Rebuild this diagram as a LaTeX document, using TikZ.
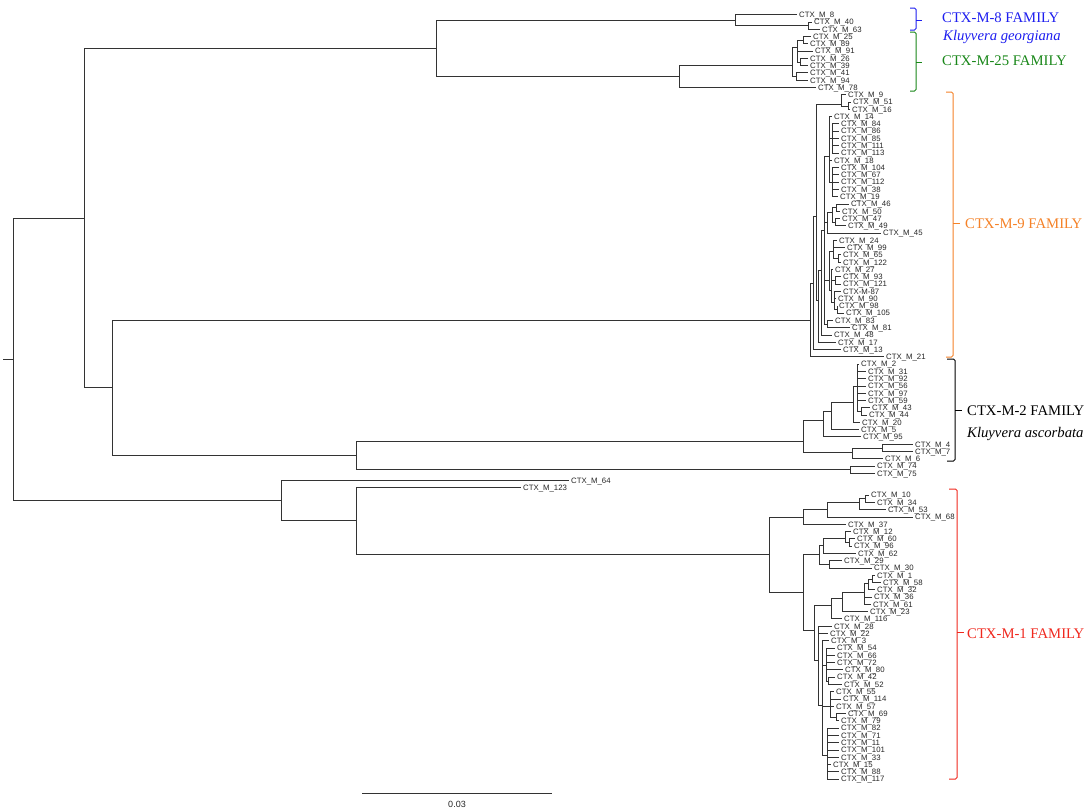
\documentclass[tikz,border=0pt]{standalone}
\usepackage{fontspec}
\setmainfont{Liberation Serif}
\newfontfamily\leaffont{Liberation Sans}
\definecolor{famblue}{RGB}{30,30,240}
\definecolor{famgreen}{RGB}{25,135,25}
\definecolor{famorange}{RGB}{245,130,40}
\definecolor{famred}{RGB}{240,40,30}
\tikzset{
  br/.style={line width=0.9pt, draw=black!80},
  leaf/.style={anchor=west, inner xsep=2pt, inner ysep=0pt, text height=5.6pt, text depth=0pt,
    font=\leaffont\fontsize{7.8}{8}\selectfont, text=black!85},
  inode/.style={inner sep=0pt, outer sep=0pt, minimum size=0pt},
  fam/.style={anchor=base west, inner sep=0pt, font=\fontsize{14.7}{16}\selectfont},
  brace/.style={line width=1pt, rounded corners=1.5pt},
}
\newcommand\lfn[4]{\node[leaf] (#1) at (#2,{14.7+#3*7.28}) {#4};}
\newcommand\inn[3]{\node[inode] (#1) at (#2,#3) {};}
\newcommand\kids[2]{\foreach \ch in {#2}{\draw[br] (#1) |- (\ch.west);}}
\begin{document}
\begin{tikzpicture}[x=1pt,y=-1pt]
\useasboundingbox[fill=white] (0,0) rectangle (1090,811);
% ---------- leaves ----------
\lfn{m8}{797}{0}{CTX\_M\_8}
\lfn{m40}{812}{1}{CTX\_M\_40}
\lfn{m63}{820}{2}{CTX\_M\_63}
\lfn{m25}{811}{3}{CTX\_M\_25}
\lfn{m89}{808}{4}{CTX\_M\_89}
\lfn{m91}{813}{5}{CTX\_M\_91}
\lfn{m26}{808}{6}{CTX\_M\_26}
\lfn{m39}{808}{7}{CTX\_M\_39}
\lfn{m41}{808}{8}{CTX\_M\_41}
\lfn{m94}{808}{9}{CTX\_M\_94}
\lfn{m78}{816}{10}{CTX\_M\_78}
\lfn{m9}{846}{11}{CTX\_M\_9}
\lfn{m51}{851}{12}{CTX\_M\_51}
\lfn{m16}{850}{13}{CTX\_M\_16}
\lfn{m14}{832}{14}{CTX\_M\_14}
\lfn{m84}{839}{15}{CTX\_M\_84}
\lfn{m86}{839}{16}{CTX\_M\_86}
\lfn{m85}{839}{17}{CTX\_M\_85}
\lfn{m111}{839}{18}{CTX\_M\_111}
\lfn{m113}{839}{19}{CTX\_M\_113}
\lfn{m18}{832}{20}{CTX\_M\_18}
\lfn{m104}{839}{21}{CTX\_M\_104}
\lfn{m67}{839}{22}{CTX\_M\_67}
\lfn{m112}{839}{23}{CTX\_M\_112}
\lfn{m38}{839}{24}{CTX\_M\_38}
\lfn{m19}{838}{25}{CTX\_M\_19}
\lfn{m46}{849}{26}{CTX\_M\_46}
\lfn{m50}{840}{27}{CTX\_M\_50}
\lfn{m47}{840}{28}{CTX\_M\_47}
\lfn{m49}{846}{29}{CTX\_M\_49}
\lfn{m45}{881}{30}{CTX\_M\_45}
\lfn{m24}{837}{31}{CTX\_M\_24}
\lfn{m99}{845}{32}{CTX\_M\_99}
\lfn{m65}{841}{33}{CTX\_M\_65}
\lfn{m122}{841}{34}{CTX\_M\_122}
\lfn{m27}{833}{35}{CTX\_M\_27}
\lfn{m93}{841}{36}{CTX\_M\_93}
\lfn{m121}{841}{37}{CTX\_M\_121}
\lfn{m87}{841}{38}{CTX-M-87}
\lfn{m90}{836}{39}{CTX\_M\_90}
\lfn{m98}{837}{40}{CTX\_M\_98}
\lfn{m105}{844}{41}{CTX\_M\_105}
\lfn{m83}{833}{42}{CTX\_M\_83}
\lfn{m81}{850}{43}{CTX\_M\_81}
\lfn{m48}{832}{44}{CTX\_M\_48}
\lfn{m17}{836}{45}{CTX\_M\_17}
\lfn{m13}{841}{46}{CTX\_M\_13}
\lfn{m21}{884}{47}{CTX\_M\_21}
\lfn{m2}{859}{48}{CTX\_M\_2}
\lfn{m31}{866}{49}{CTX\_M\_31}
\lfn{m92}{866}{50}{CTX\_M\_92}
\lfn{m56}{866}{51}{CTX\_M\_56}
\lfn{m97}{866}{52}{CTX\_M\_97}
\lfn{m59}{866}{53}{CTX\_M\_59}
\lfn{m43}{870}{54}{CTX\_M\_43}
\lfn{m44}{867}{55}{CTX\_M\_44}
\lfn{m20}{860}{56}{CTX\_M\_20}
\lfn{m5}{859}{57}{CTX\_M\_5}
\lfn{m95}{861}{58}{CTX\_M\_95}
\lfn{m4}{913}{59}{CTX\_M\_4}
\lfn{m7}{913}{60}{CTX\_M\_7}
\lfn{m6}{883}{61}{CTX\_M\_6}
\lfn{m74}{875}{62}{CTX\_M\_74}
\lfn{m75}{875}{63}{CTX\_M\_75}
\lfn{m64}{569}{64}{CTX\_M\_64}
\lfn{m123}{521}{65}{CTX\_M\_123}
\lfn{m10}{869}{66}{CTX\_M\_10}
\lfn{m34}{875}{67}{CTX\_M\_34}
\lfn{m53}{886}{68}{CTX\_M\_53}
\lfn{m68}{913}{69}{CTX\_M\_68}
\lfn{m37}{846}{70}{CTX\_M\_37}
\lfn{m12}{851}{71}{CTX\_M\_12}
\lfn{m60}{855}{72}{CTX\_M\_60}
\lfn{m96}{852}{73}{CTX\_M\_96}
\lfn{m62}{856}{74}{CTX\_M\_62}
\lfn{m29}{842}{75}{CTX\_M\_29}
\lfn{m30}{872}{76}{CTX\_M\_30}
\lfn{m1}{875}{77}{CTX\_M\_1}
\lfn{m58}{881}{78}{CTX\_M\_58}
\lfn{m32}{875}{79}{CTX\_M\_32}
\lfn{m36}{872}{80}{CTX\_M\_36}
\lfn{m61}{871}{81}{CTX\_M\_61}
\lfn{m23}{868}{82}{CTX\_M\_23}
\lfn{m116}{842}{83}{CTX\_M\_116}
\lfn{m28}{832}{84}{CTX\_M\_28}
\lfn{m22}{828}{85}{CTX\_M\_22}
\lfn{m3}{829}{86}{CTX\_M\_3}
\lfn{m54}{835}{87}{CTX\_M\_54}
\lfn{m66}{835}{88}{CTX\_M\_66}
\lfn{m72}{835}{89}{CTX\_M\_72}
\lfn{m80}{843}{90}{CTX\_M\_80}
\lfn{m42}{835}{91}{CTX\_M\_42}
\lfn{m52}{842}{92}{CTX\_M\_52}
\lfn{m55}{834}{93}{CTX\_M\_55}
\lfn{m114}{841}{94}{CTX\_M\_114}
\lfn{m57}{834}{95}{CTX\_M\_57}
\lfn{m69}{846}{96}{CTX\_M\_69}
\lfn{m79}{839}{97}{CTX\_M\_79}
\lfn{m82}{839}{98}{CTX\_M\_82}
\lfn{m71}{839}{99}{CTX\_M\_71}
\lfn{m11}{839}{100}{CTX\_M\_11}
\lfn{m101}{839}{101}{CTX\_M\_101}
\lfn{m33}{839}{102}{CTX\_M\_33}
\lfn{m15}{831}{103}{CTX\_M\_15}
\lfn{m88}{839}{104}{CTX\_M\_88}
\lfn{m117}{839}{105}{CTX\_M\_117}
% ---------- internal nodes ----------
\inn{stub}{3}{359}\inn{root}{13}{359}
\inn{n84}{84}{218}\inn{n436}{436}{48}\inn{n735}{735}{20}\inn{n808}{808}{25.5}
\inn{n679}{679}{76}\inn{n25s}{792}{65}\inn{nA}{797}{47}\inn{nA1}{803}{40}
\inn{nA3}{800}{62}\inn{nB}{796}{76}
\inn{n112}{112}{387}
\inn{n9}{810}{320}\inn{P9}{813}{283}\inn{Q9}{816}{216}\inn{N916}{841}{104}
\inn{N5116}{848}{106}\inn{S9}{818}{300}\inn{T9}{821}{270}\inn{W9}{824}{230}
\inn{W1}{829}{156}\inn{W1a}{832}{138}\inn{W1b}{832}{182}
\inn{W2}{827}{222}\inn{W2a}{832}{212}\inn{W2b}{836}{207}\inn{W2c}{835}{222}
\inn{W3}{829}{280}\inn{W3a}{833}{251}\inn{W3a1}{838}{258.5}\inn{W3b}{831}{290}
\inn{W3b1}{835}{280}\inn{W3b2}{834}{302}\inn{W3b3}{837}{309.5}\inn{X9}{827}{324}
\inn{n356}{356}{455}\inn{n2}{803}{441}\inn{C2A}{823}{420}\inn{C2A1}{831}{411}
\inn{C2A2}{853}{402}\inn{C2A3}{857}{386}\inn{C2A4}{861}{411.5}\inn{C2B}{852}{452}
\inn{C2B1}{882}{448}\inn{N7475}{850}{469.7}
\inn{n281}{281}{500}\inn{n356b}{356}{520}
\inn{M1}{769}{554}\inn{M1a}{803}{517}\inn{M1c}{827}{509}\inn{M1d}{859}{502}
\inn{M1e}{865}{498.8}\inn{M1b}{803}{592}\inn{M1f}{819}{554}\inn{M1h}{823}{545}
\inn{M1j}{845}{538}\inn{M1k}{849}{542.5}\inn{M1i}{829}{564}\inn{M1g}{814}{630}
\inn{M1l}{831}{605}\inn{M1n}{842}{598}\inn{M1o}{864}{592}\inn{M1p}{868}{583}
\inn{M1q}{872}{579}\inn{M1m}{818}{660}\inn{M1r}{822}{705}\inn{M1s}{826}{665}
\inn{M1t}{828}{681}\inn{M1u}{830}{706}\inn{M1x}{836}{717}\inn{M1w}{827}{755}
% ---------- branches ----------
\draw[br] (stub) -- (root);
\kids{root}{n84,n281}
\kids{n84}{n436,n112}
\kids{n436}{n735,n679}
\kids{n735}{m8,n808}
\kids{n808}{m40,m63}
\kids{n679}{n25s,m78}
\kids{n25s}{nA,nB}
\kids{nA}{nA1,m91,nA3}
\kids{nA1}{m25,m89}
\kids{nA3}{m26,m39}
\kids{nB}{m41,m94}
\kids{n112}{n9,n356}
\kids{n9}{P9,m21}
\kids{P9}{Q9,m13}
\kids{Q9}{N916,S9}
\kids{N916}{m9,N5116}
\kids{N5116}{m51,m16}
\kids{S9}{T9,m17}
\kids{T9}{W9,m48}
\kids{W9}{W1,W2,W3,X9}
\kids{W1}{m14,W1a,m18,W1b}
\kids{W1a}{m84,m86,m85,m111,m113}
\kids{W1b}{m104,m67,m112,m38,m19}
\kids{W2}{W2a,m45}
\kids{W2a}{W2b,W2c}
\kids{W2b}{m46,m50}
\kids{W2c}{m47,m49}
\kids{W3}{W3a,W3b}
\kids{W3a}{m24,m99,W3a1}
\kids{W3a1}{m65,m122}
\kids{W3b}{m27,W3b1,W3b2}
\kids{W3b1}{m93,m121}
\kids{W3b2}{m87,m90,W3b3}
\kids{W3b3}{m98,m105}
\kids{X9}{m83,m81}
\kids{n356}{n2,N7475}
\kids{n2}{C2A,C2B}
\kids{C2A}{C2A1,m95}
\kids{C2A1}{C2A2,m5}
\kids{C2A2}{C2A3,m20}
\kids{C2A3}{m2,m31,m92,m56,m97,m59,C2A4}
\kids{C2A4}{m43,m44}
\kids{C2B}{C2B1,m6}
\kids{C2B1}{m4,m7}
\kids{N7475}{m74,m75}
\kids{n281}{m64,n356b}
\kids{n356b}{m123,M1}
\kids{M1}{M1a,M1b}
\kids{M1a}{M1c,m37}
\kids{M1c}{M1d,m68}
\kids{M1d}{M1e,m53}
\kids{M1e}{m10,m34}
\kids{M1b}{M1f,M1g}
\kids{M1f}{M1h,M1i}
\kids{M1h}{M1j,m62}
\kids{M1j}{m12,M1k}
\kids{M1k}{m60,m96}
\kids{M1i}{m29,m30}
\kids{M1g}{M1l,M1m}
\kids{M1l}{M1n,m116}
\kids{M1n}{M1o,m23}
\kids{M1o}{M1p,m36,m61}
\kids{M1p}{M1q,m32}
\kids{M1q}{m1,m58}
\kids{M1m}{m28,m22,M1r}
\kids{M1r}{m3,M1s,M1u,M1w}
\kids{M1s}{m54,m66,m72,m80,M1t}
\kids{M1t}{m42,m52}
\kids{M1u}{m55,m114,m57,M1x}
\kids{M1x}{m69,m79}
\kids{M1w}{m82,m71,m11,m101,m33,m15,m88,m117}
% ---------- family brackets ----------
\draw[brace, famblue] (910,8) -| (916,30) -- (910,30);
\draw[brace, famblue] (916,20) -- (922,20);
\draw[brace, famgreen] (910,32) -| (916,91) -- (910,91);
\draw[brace, famgreen] (916,62) -- (922,62);
\draw[brace, famorange] (946,92) -| (953,357) -- (946,357);
\draw[brace, famorange] (953,223) -- (960,223);
\draw[brace, black] (947,359) -| (955,461) -- (947,461);
\draw[brace, black] (955,410) -- (962,410);
\draw[brace, famred] (949,489) -| (957,779) -- (949,779);
\draw[brace, famred] (957,632) -- (964,632);
\node[fam, text=famblue] (f8) at (942,22) {CTX-M-8 FAMILY};
\node[fam, text=famblue] (kg) at (943,40) {\itshape Kluyvera georgiana};
\node[fam, text=famgreen] (f25) at (942,65) {CTX-M-25 FAMILY};
\node[fam, text=famorange] (f9) at (965,228) {CTX-M-9 FAMILY};
\node[fam] (f2) at (967,415) {CTX-M-2 FAMILY};
\node[fam] (ka) at (967,437) {\itshape Kluyvera ascorbata};
\node[fam, text=famred] (f1) at (967,638) {CTX-M-1 FAMILY};
% ---------- scale bar ----------
\node[inode] (sbl) at (362,793) {};
\node[inode] (sbr) at (552,793) {};
\draw[br] (sbl) -- (sbr);
\node[font=\leaffont\fontsize{9}{10}\selectfont, text=black!85, inner sep=0pt] (sbt) at (457,804) {0.03};
\end{tikzpicture}
\end{document}
